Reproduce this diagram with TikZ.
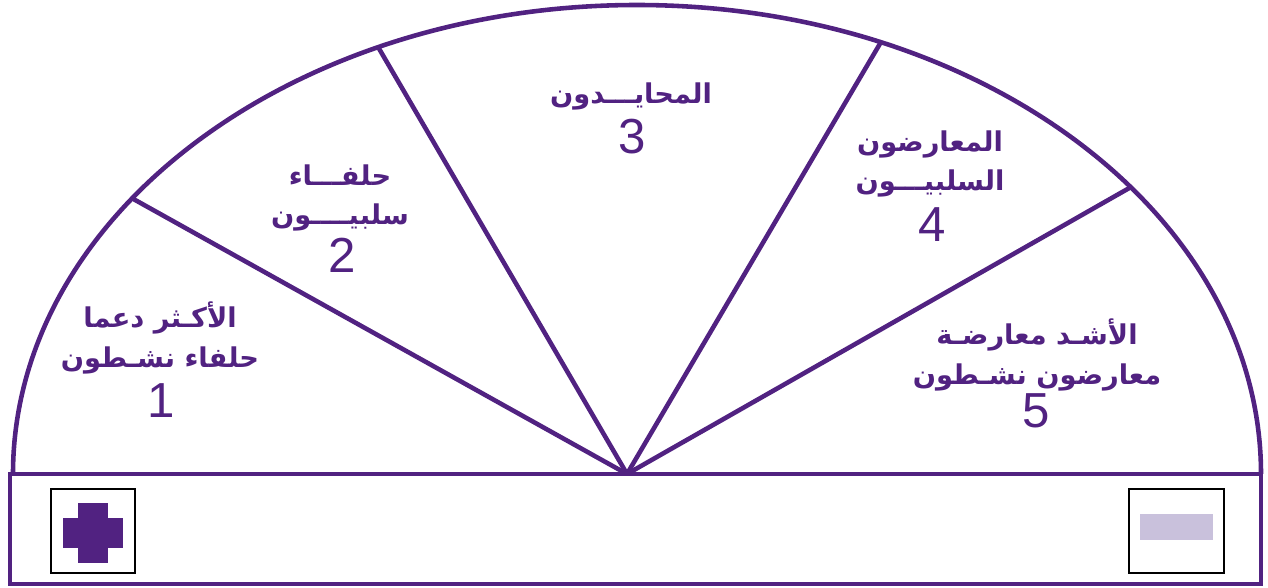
\documentclass[tikz,border=0pt]{standalone}
\usepackage{fontspec}
\usetikzlibrary{calc}
\TeXXeTstate=1
\newfontfamily\arabicfont[Script=Arabic]{DejaVu Sans}
\newfontfamily\numfont{Liberation Sans}
\newcommand{\ar}[1]{{\arabicfont\bfseries\beginR #1\endR}}
\definecolor{fanpurple}{HTML}{512281}
\definecolor{barlilac}{HTML}{C9C1DC}

\begin{document}
\begin{tikzpicture}[
    rim/.style={fanpurple, line width=2.6pt},
    keybox/.style={black, line width=1.5pt},
    label/.style={fanpurple, align=center, inner sep=0pt,
      font=\fontsize{15.5}{22.5}\selectfont},
    rank/.style={fanpurple, inner sep=0pt,
      font=\numfont\fontsize{28}{30}\selectfont}]
  \useasboundingbox (0,0) rectangle (25.36,11.74);

  %–– Ventaglio ––
  \coordinate (E) at (12.74,2.26);
  \coordinate (O) at (12.54,2.26);
  \coordinate (s1) at ($(E)+(144:12.48cm and 9.38cm)$);
  \coordinate (s2) at ($(E)+(114.5:12.48cm and 9.38cm)$);
  \coordinate (s3) at ($(E)+(67:12.48cm and 9.38cm)$);
  \coordinate (s4) at ($(E)+(37.7:12.48cm and 9.38cm)$);
  \draw[rim] (0.26,2.26) arc[start angle=180, end angle=0,
    x radius=12.48cm, y radius=9.38cm];
  \foreach \s in {s1,s2,s3,s4}
    \draw[rim] (O) -- (\s);

  %–– Barra in basso ––
  \draw[rim] (0.2,0.06) rectangle (25.22,2.26);
  \draw[keybox] (1.02,0.28) rectangle (2.70,1.96);
  \draw[keybox] (22.58,0.28) rectangle (24.48,1.96);
  \fill[fanpurple] (1.56,0.49) rectangle (2.16,1.69);
  \fill[fanpurple] (1.26,0.79) rectangle (2.46,1.39);
  \fill[barlilac] (22.80,0.94) rectangle (24.26,1.46);

  %–– Etichette ––
  \node[label] (g1) at (3.2,4.98) {\ar{الأكـثر دعما}\\\ar{حلفاء نشـطون}};
  \node[rank] (n1) at (3.22,3.72) {1};
  \node[label] (g2) at (6.8,7.78) {\ar{حلفـــاء}\\\ar{سلبيــــون}};
  \node[rank] (n2) at (6.84,6.64) {2};
  \node[label] (g3) at (12.62,9.82) {\ar{المحايـــدون}};
  \node[rank] (n3) at (12.64,9.0) {3};
  \node[label] (g4) at (18.6,8.46) {\ar{المعارضون}\\\ar{السلبيـــون}};
  \node[rank] (n4) at (18.64,7.24) {4};
  \node[label] (g5) at (20.74,4.64) {\ar{الأشـد معارضـة}\\\ar{معارضون نشـطون}};
  \node[rank] (n5) at (20.72,3.52) {5};
\end{tikzpicture}
\end{document}
